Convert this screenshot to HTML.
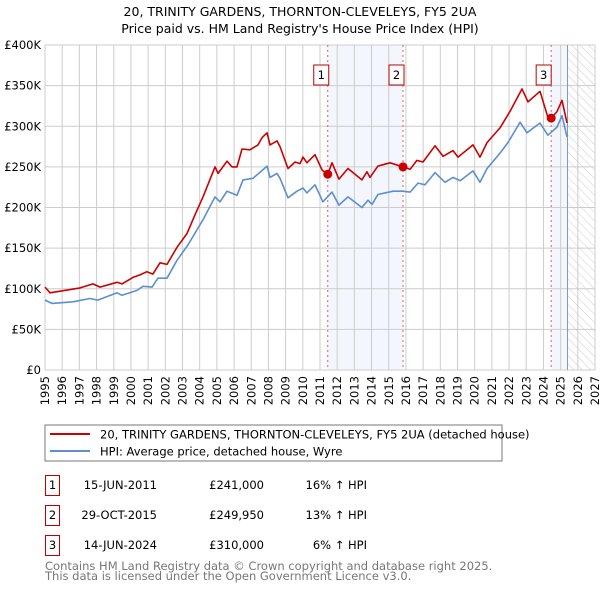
<!DOCTYPE html>
<html><head><meta charset="utf-8"><style>
body{margin:0;background:#fff;font-family:"DejaVu Sans","Liberation Sans",sans-serif;}
svg text{font-family:"DejaVu Sans","Liberation Sans",sans-serif;}
</style></head><body>
<svg id="c" width="600" height="590" xmlns="http://www.w3.org/2000/svg">
<defs><pattern id="hatch" width="6" height="6" patternUnits="userSpaceOnUse" patternTransform="rotate(-45)"><line x1="0" y1="0" x2="0" y2="6" stroke="#ccc" stroke-width="1"/></pattern></defs>
<text x="300" y="16" text-anchor="middle" font-size="12.5">20, TRINITY GARDENS, THORNTON-CLEVELEYS, FY5 2UA</text>
<text x="300" y="33" text-anchor="middle" font-size="12.5">Price paid vs. HM Land Registry's House Price Index (HPI)</text>
<g id="plot"></g>
<rect x="45" y="425" width="457" height="36" fill="#fff" stroke="#777"/>
<line x1="50" y1="434" x2="90" y2="434" stroke="#cc0000" stroke-width="2"/>
<text x="100" y="438.5" font-size="11.5">20, TRINITY GARDENS, THORNTON-CLEVELEYS, FY5 2UA (detached house)</text>
<line x1="50" y1="451" x2="90" y2="451" stroke="#5b8fd0" stroke-width="2"/>
<text x="100" y="455.5" font-size="11.5">HPI: Average price, detached house, Wyre</text>
<g id="table" font-size="11.5"></g>
<text x="45" y="570" font-size="11.5" fill="#777">Contains HM Land Registry data © Crown copyright and database right 2025.</text>
<text x="45" y="580" font-size="11.5" fill="#777">This data is licensed under the Open Government Licence v3.0.</text>
</svg>
<script>
const redYears=[1995.0,1995.29,1997.04,1997.79,1998.2,1999.19,1999.48,2000.12,2000.53,2000.93,2001.28,2001.69,2002.1,2002.68,2003.26,2003.73,2004.19,2004.89,2005.07,2005.59,2005.88,2006.17,2006.46,2006.93,2007.39,2007.63,2007.92,2008.09,2008.5,2008.67,2009.14,2009.55,2009.84,2010.01,2010.24,2010.71,2011.12,2011.45,2011.7,2012.1,2012.63,2013.44,2013.73,2013.91,2014.37,2015.07,2015.83,2016.24,2016.64,2016.99,2017.69,2018.16,2018.74,2019.03,2019.9,2020.31,2020.72,2021.47,2022.05,2022.75,2023.1,2023.8,2024.26,2024.45,2024.79,2025.08,2025.37];
const redValues=[102,95,101,106,102,108,106,114,117,121,118,132,130,151,168,191,213,250,242,257,250,250,272,271,277,286,292,277,282,275,248,256,254,262,255,265,246,241,255,235,248,234,244,237,251,255,250,247,258,256,276,263,270,262,277,262,280,298,318,346,330,343,311,310,318,332,304];
const hpiYears=[1995.0,1995.41,1996.63,1997.62,1998.08,1999.19,1999.48,2000.35,2000.7,2001.23,2001.57,2002.1,2002.68,2003.32,2004.19,2004.89,2005.18,2005.59,2006.17,2006.52,2007.1,2007.92,2008.09,2008.5,2008.67,2009.14,2009.66,2010.01,2010.24,2010.71,2011.17,2011.7,2012.1,2012.63,2013.44,2013.79,2014.03,2014.37,2015.25,2015.77,2016.24,2016.7,2017.11,2017.69,2018.27,2018.74,2019.15,2019.9,2020.31,2020.72,2021.47,2021.94,2022.64,2023.04,2023.8,2024.26,2024.79,2025.08,2025.37];
const hpiValues=[86,82,84,88,86,95,92,98,103,102,113,113,135,154,185,213,207,220,215,234,236,251,237,242,236,212,220,224,218,228,207,219,203,213,200,209,204,216,220,220,219,230,228,243,231,237,233,245,231,248,267,280,305,292,304,289,299,313,287];
const saleLabels=["1","2","3"];
const saleYears=[2011.45,2015.83,2024.45];
const saleValues=[241,249.95,310];
const saleDates=["15-JUN-2011","29-OCT-2015","14-JUN-2024"];
const salePrices=["£241,000","£249,950","£310,000"];
const salePcts=["16% ↑ HPI","13% ↑ HPI","6% ↑ HPI"];
const yTicks=[0,50,100,150,200,250,300,350,400];
const yTickLabels=["£0","£50K","£100K","£150K","£200K","£250K","£300K","£350K","£400K"];
const xTicks=[1995,1996,1997,1998,1999,2000,2001,2002,2003,2004,2005,2006,2007,2008,2009,2010,2011,2012,2013,2014,2015,2016,2017,2018,2019,2020,2021,2022,2023,2024,2025,2026,2027];
const dataEnd=2025.4;

const X0=45,X1=595,Y0=370,Y1=45;
const sx=y=>X0+(y-1995)/(2027-1995)*(X1-X0);
const sy=v=>Y0-v/400*(Y0-Y1);
const NS="http://www.w3.org/2000/svg";
const plot=document.getElementById('plot');
function mk(tag,attrs,parent){const e=document.createElementNS(NS,tag);for(const k in attrs)e.setAttribute(k,attrs[k]);(parent||plot).appendChild(e);return e;}

let r=mk('rect',{x:sx(saleYears[0]),y:Y1,width:sx(saleYears[1])-sx(saleYears[0]),height:Y0-Y1,fill:'#eef3fc',opacity:0.7});


r=mk('rect',{x:sx(saleYears[2]),y:Y1,width:sx(dataEnd)-sx(saleYears[2]),height:Y0-Y1,fill:'#eef3fc',opacity:0.7});


r=mk('rect',{x:sx(dataEnd),y:Y1,width:X1-sx(dataEnd),height:Y0-Y1,fill:'url(#hatch)'});



xTicks.forEach(t=>{
  const l=mk('line',{x1:sx(t),x2:sx(t),y1:Y1,y2:Y0,stroke:'#ccc','stroke-width':1});
  
  
  const tx=mk('text',{x:0,y:0,'text-anchor':'end','font-size':11.5,transform:'translate('+(sx(t)+4)+','+(Y0+6)+') rotate(-90)'});
  tx.textContent=t;
  
  
});
yTicks.forEach((t,i)=>{
  const l=mk('line',{x1:X0,x2:X1,y1:sy(t),y2:sy(t),stroke:'#ccc','stroke-width':1});
  
  
  const tx=mk('text',{x:X0-4,y:sy(t)+4,'text-anchor':'end','font-size':11.5});
  tx.textContent=yTickLabels[i];
  
  
});
let dl=mk('line',{x1:sx(dataEnd),x2:sx(dataEnd),y1:Y1,y2:Y0,stroke:'#8899aa','stroke-width':1});



saleYears.forEach((y,i)=>{
  const l=mk('line',{x1:sx(y),x2:sx(y),y1:Y1,y2:Y0,stroke:'#e06060','stroke-width':1,'stroke-dasharray':'2,3'});
  
  
});

function path(xs,vs,color,name){
  const d=xs.map((x,i)=>(i?'L':'M')+sx(x).toFixed(1)+','+sy(vs[i]).toFixed(1)).join('');
  const p=mk('path',{d:d,fill:'none',stroke:color,'stroke-width':1.6,'stroke-linejoin':'round'});
  
  
}
path(hpiYears,hpiValues,'#5b8fd0','hpi-line');
path(redYears,redValues,'#cc0000','price-line');

saleYears.forEach((y,i)=>{
  const c=mk('circle',{cx:sx(y),cy:sy(saleValues[i]),r:4.5,fill:'#cc0000'});
  
  
  const bx=sx(y)-8-(i==2?1:0);
  const b=mk('rect',{x:bx-6,y:65,width:15,height:20,fill:'#fff',stroke:'#bb0000'});
  
  
  const t=mk('text',{x:bx+1.5,y:79,'text-anchor':'middle','font-size':11.5});
  t.textContent=saleLabels[i];
  
  
});
let border=mk('rect',{x:X0,y:Y1,width:X1-X0,height:Y0-Y1,fill:'none',stroke:'none'});



const tbl=document.getElementById('table');
saleLabels.forEach((s,i)=>{
  const y0=475+i*30;
  const b=mk('rect',{x:45.5,y:y0+0.5,width:14,height:20,fill:'#fff',stroke:'#bb0000'},tbl);
  
  
  const cells=[[52.5,'middle',s],[157,'end',saleDates[i]],[264,'end',salePrices[i]],[367,'end',salePcts[i]]];
  cells.forEach(c=>{
    const t=mk('text',{x:c[0],y:y0+14,'text-anchor':c[1]},tbl);
    t.textContent=c[2];
    
    
  });
});
</script>
</body></html>
